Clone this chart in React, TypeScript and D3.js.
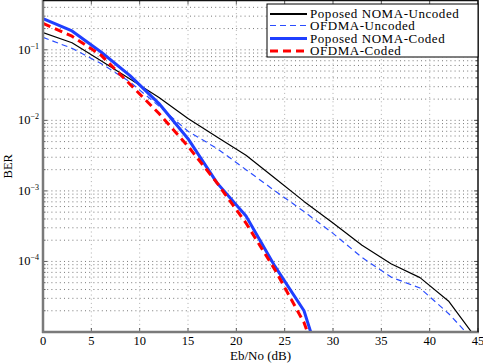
import React, { useEffect, useRef } from 'react';
import * as d3 from 'd3';

// Eb/No points (dB)
const snr = [0, 3, 6, 9, 12, 15, 18, 21, 24, 27, 30, 33, 36, 39, 42, 45];
const snrCoded = [0, 3, 6, 9, 12, 15, 18, 21, 24, 27, 30];

const nomaUncoded = [0.175, 0.126, 0.07, 0.0385, 0.0211, 0.0106, 0.0058, 0.0032, 0.00151, 7.1e-4, 3.5e-4, 1.7e-4, 9.3e-5, 5.9e-5, 2.7e-5, 7.5e-6];
const ofdmaUncoded = [0.15, 0.105, 0.064, 0.035, 0.0159, 0.007, 0.004, 0.002, 0.001, 5.1e-4, 2.5e-4, 1.14e-4, 6.0e-5, 4.2e-5, 1.8e-5, 6.5e-6];
const nomaCoded = [0.276, 0.185, 0.093, 0.043, 0.0173, 0.0055, 0.0013, 4.4e-4, 8.5e-5, 2.0e-5, 1e-6];
const ofdmaCoded = [0.237, 0.156, 0.084, 0.0325, 0.0125, 0.0043, 0.0013, 3.5e-4, 7.6e-5, 1.36e-5, 1e-6];

const xTicks = [0, 5, 10, 15, 20, 25, 30, 35, 40, 45];
const yTicks = [1e-4, 1e-3, 1e-2, 1e-1];

const series = [
  { name: 'Poposed NOMA-Uncoded', x: snr, y: nomaUncoded, color: '#000000', width: 1.2, dash: null },
  { name: 'OFDMA-Uncoded', x: snr, y: ofdmaUncoded, color: '#2a4dff', width: 1.2, dash: '6,4' },
  { name: 'Poposed NOMA-Coded', x: snrCoded, y: nomaCoded, color: '#1f3fff', width: 3, dash: null },
  { name: 'OFDMA-Coded', x: snrCoded, y: ofdmaCoded, color: '#ff0000', width: 3, dash: '8,5' },
];

const W = 483;
const H = 363;
const FONT = '"Liberation Serif", "Times New Roman", serif';

export default function App() {
  const svgRef = useRef<SVGSVGElement>(null);

  useEffect(() => {
    const svg = d3.select(svgRef.current);
    svg.selectAll('*').remove();

    const left = 43, right = 478, top = 0.5, bottom = 332;

    const x = d3.scaleLinear().domain([0, 45]).range([left, right]);
    const y = d3.scaleLog().domain([1e-5, 0.5]).range([bottom, top]);

    svg.append('rect').attr('width', W).attr('height', H).attr('fill', '#fff');

    svg.append('defs').append('clipPath').attr('id', 'plot-clip')
      .append('rect').attr('x', left).attr('y', top).attr('width', right - left).attr('height', bottom - top);

    // grid: every minor decade line horizontally, major x ticks vertically
    const minor: number[] = [];
    for (let e = -5; e <= -1; e++) {
      for (let m = 1; m <= 9; m++) {
        const v = m * Math.pow(10, e);
        if (v > 1e-5 && v < 0.5) minor.push(v);
      }
    }

    const grid = svg.append('g');
    grid.selectAll('.hgrid')
      .data(minor)
      .enter().append('line')
      .attr('x1', left).attr('x2', right)
      .attr('y1', d => y(d)).attr('y2', d => y(d))
      .attr('stroke', '#555')
      .attr('stroke-width', 0.8)
      .attr('stroke-dasharray', '1,3.2');

    grid.selectAll('.vgrid')
      .data(xTicks.slice(1, -1))
      .enter().append('line')
      .attr('x1', d => x(d)).attr('x2', d => x(d))
      .attr('y1', top).attr('y2', bottom)
      .attr('stroke', '#999')
      .attr('stroke-width', 0.8)
      .attr('stroke-dasharray', '1,3.2');

    // tick marks (inward, all sides)
    const ticks = svg.append('g').attr('stroke', '#333').attr('stroke-width', 0.8);
    xTicks.forEach(t => {
      ticks.append('line').attr('x1', x(t)).attr('x2', x(t)).attr('y1', bottom).attr('y2', bottom - 4);
      ticks.append('line').attr('x1', x(t)).attr('x2', x(t)).attr('y1', top).attr('y2', top + 4);
    });
    minor.forEach(v => {
      const isMajor = yTicks.includes(v);
      const len = isMajor ? 4 : 2.5;
      ticks.append('line').attr('x1', left).attr('x2', left + len).attr('y1', y(v)).attr('y2', y(v));
      ticks.append('line').attr('x1', right).attr('x2', right - len).attr('y1', y(v)).attr('y2', y(v));
    });

    // curves
    const line = d3.line<[number, number]>()
      .x(d => x(d[0]))
      .y(d => y(d[1]));

    const curves = svg.append('g').attr('clip-path', 'url(#plot-clip)');
    series.forEach(s => {
      const pts = s.x.map((v, i) => [v, s.y[i]] as [number, number]);
      curves.append('path')
        .attr('d', line(pts))
        .attr('fill', 'none')
        .attr('stroke', s.color)
        .attr('stroke-width', s.width)
        .attr('stroke-dasharray', s.dash)
        .attr('stroke-linejoin', 'round');
    });

    // axes box
    svg.append('line').attr('x1', left).attr('x2', left).attr('y1', 0).attr('y2', bottom + 1)
      .attr('stroke', '#7a7a7a').attr('stroke-width', 2.5);
    svg.append('line').attr('x1', left - 1).attr('x2', right + 1).attr('y1', bottom).attr('y2', bottom)
      .attr('stroke', '#7a7a7a').attr('stroke-width', 2.5);
    svg.append('line').attr('x1', right).attr('x2', right).attr('y1', 0).attr('y2', bottom)
      .attr('stroke', '#111').attr('stroke-width', 1.5);
    svg.append('line').attr('x1', left).attr('x2', right).attr('y1', top).attr('y2', top)
      .attr('stroke', '#111').attr('stroke-width', 1.5);

    // tick labels
    svg.selectAll('.xlabel')
      .data(xTicks)
      .enter().append('text')
      .attr('x', d => x(d))
      .attr('y', 345)
      .attr('text-anchor', 'middle')
      .attr('font-family', FONT)
      .attr('font-size', 12.5)
      .text(d => d);

    yTicks.forEach(v => {
      const exp = Math.round(Math.log10(v));
      const t = svg.append('text')
        .attr('x', 39)
        .attr('y', y(v) + 4)
        .attr('text-anchor', 'end')
        .attr('font-family', FONT)
        .attr('font-size', 12.5);
      t.append('tspan').text('10');
      t.append('tspan').attr('dy', -5).attr('font-size', 8).text('\u2212' + Math.abs(exp));
    });

    svg.append('text')
      .attr('x', (left + right) / 2)
      .attr('y', 360)
      .attr('text-anchor', 'middle')
      .attr('font-family', FONT)
      .attr('font-size', 13)
      .text('Eb/No (dB)');

    svg.append('text')
      .attr('transform', `translate(12,${(top + bottom) / 2}) rotate(-90)`)
      .attr('text-anchor', 'middle')
      .attr('font-family', FONT)
      .attr('font-size', 12.5)
      .text('BER');

    // legend
    const lg = svg.append('g');
    lg.append('rect')
      .attr('x', 267).attr('y', 4)
      .attr('width', right - 267).attr('height', 53)
      .attr('fill', '#fff')
      .attr('stroke', '#000')
      .attr('stroke-width', 1);

    const rowY = [14, 25.5, 38.5, 51];
    series.forEach((s, i) => {
      lg.append('line')
        .attr('x1', 270).attr('x2', 307)
        .attr('y1', rowY[i]).attr('y2', rowY[i])
        .attr('stroke', s.color)
        .attr('stroke-width', i === 0 ? 2 : s.width)
        .attr('stroke-dasharray', s.dash);
      lg.append('text')
        .attr('x', 310)
        .attr('y', rowY[i] + 4)
        .attr('font-family', FONT)
        .attr('font-size', 13)
        .attr('letter-spacing', 0.55)
        .text(s.name);
    });
  }, []);

  return (
    <svg ref={svgRef} width={W} height={H}
      style={{ position: 'absolute', left: 0, top: 0, display: 'block' }} />
  );
}
